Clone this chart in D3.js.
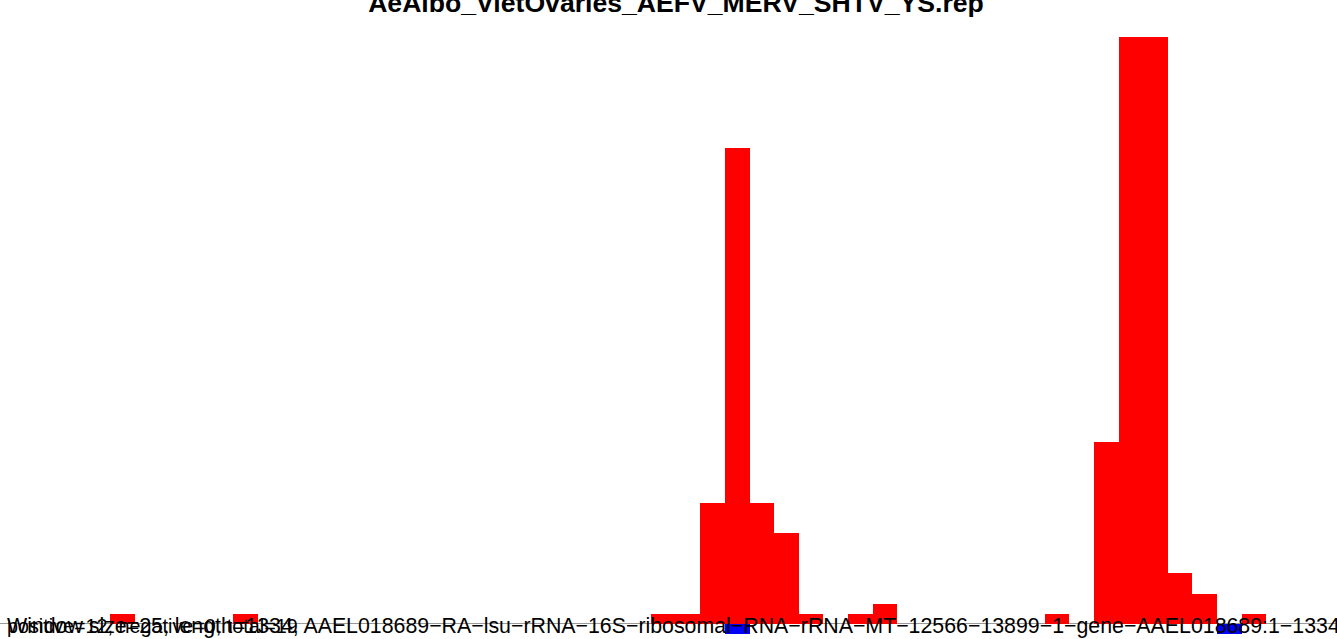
<!DOCTYPE html>
<html>
<head>
<meta charset="utf-8">
<script src="https://cdn.jsdelivr.net/npm/d3@7"></script>
<style>
  html, body { margin: 0; padding: 0; background: #fff; overflow: hidden; }
  svg { display: block; }
  text { font-family: "Liberation Sans", Arial, Helvetica, sans-serif; }
</style>
</head>
<body>
<script>
// Read coverage of a 1334-nt reference in 25-nt windows
const windowSize = 25;
const refLength = 1334;

// sense (positive strand) windows: start position and count
const plusStarts = [100, 225, 650, 675, 700, 725, 750, 775, 800, 850, 875, 1050, 1100, 1125, 1150, 1175, 1200, 1250];
const plusCounts = [1, 1, 1, 1, 12, 47, 12, 9, 1, 1, 2, 1, 18, 58, 58, 5, 3, 1];

// antisense (negative strand) windows
const minusStarts = [725, 1225];
const minusCounts = [-1, -1];

const title = "AeAlbo_VietOvaries_AEFV_MERV_SHTV_YS.rep";
const refName = "AAEL018689\u2212RA\u2212lsu\u2212rRNA\u221216S\u2212ribosomal\u2212RNA\u2212rRNA\u2212MT\u221212566\u221213899\u22121\u2212gene\u2212AAEL018689:1\u22121334";
const infoLine1 = "Window size=25, length=1334, " + refName;
const infoLine2 = "positive=12, negative=0, total=19";

const W = 1337, H = 639;
const svg = d3.select("body").append("svg").attr("width", W).attr("height", H);

const x = d3.scaleLinear().domain([0, refLength]).range([11.6, 11.6 + refLength * 0.984]);
const y = d3.scaleLinear().domain([0, 58]).range([624, 37]);

// zero line
svg.append("line")
  .attr("x1", 0).attr("x2", W)
  .attr("y1", y(0) - 0.5).attr("y2", y(0) - 0.5)
  .attr("stroke", "#9a9a9a").attr("stroke-width", 1);

const plus = plusStarts.map((s, i) => ({ s, v: plusCounts[i] }));
const minus = minusStarts.map((s, i) => ({ s, v: minusCounts[i] }));

svg.append("g").selectAll("rect").data(plus).join("rect")
  .attr("x", d => x(d.s))
  .attr("width", d => x(d.s + windowSize) - x(d.s))
  .attr("y", d => y(d.v))
  .attr("height", d => y(0) - y(d.v))
  .attr("fill", "#ff0000")
  .attr("shape-rendering", "crispEdges");

svg.append("g").selectAll("rect").data(minus).join("rect")
  .attr("x", d => x(d.s))
  .attr("width", d => x(d.s + windowSize) - x(d.s))
  .attr("y", y(0))
  .attr("height", d => y(d.v) - y(0))
  .attr("fill", "#0000ff")
  .attr("shape-rendering", "crispEdges");

// title
const t = svg.append("text")
  .attr("x", 676).attr("y", 12)
  .attr("text-anchor", "middle")
  .attr("font-weight", "bold")
  .attr("font-size", 20)
  .attr("fill", "#000")
  .text(title);
const tw = t.node().getComputedTextLength();
t.attr("font-size", 20 * 616 / tw);

// bottom annotation lines
const r = svg.append("text")
  .attr("x", 7).attr("y", 633)
  .attr("font-size", 20)
  .attr("fill", "#000")
  .text(infoLine1);
const rw = r.node().getComputedTextLength();
const fs = 20 * 1333 / rw;
r.attr("font-size", fs);

const c = svg.append("text")
  .attr("x", 7).attr("y", 633)
  .attr("font-size", 20)
  .attr("fill", "#000")
  .text(infoLine2);
const cw = c.node().getComputedTextLength();
c.attr("font-size", 20 * 291 / cw);
</script>
</body>
</html>
